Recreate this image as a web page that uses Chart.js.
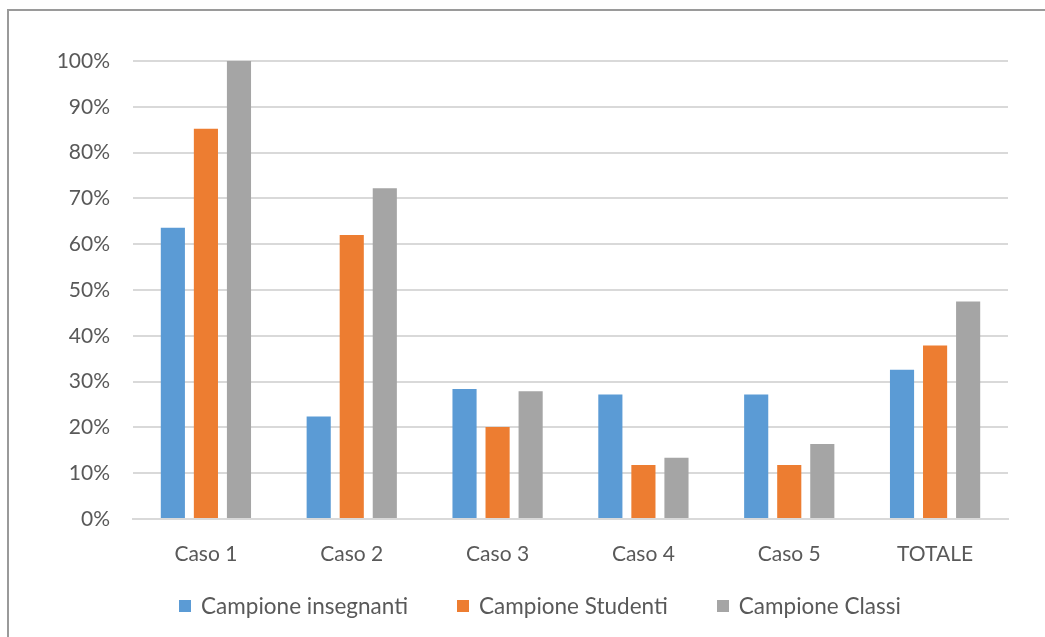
<!DOCTYPE html>
<html>
<head>
<meta charset="utf-8">
<script src="https://cdn.jsdelivr.net/npm/chart.js@4.4.1/dist/chart.umd.min.js"></script>
<style>
  html, body { margin: 0; padding: 0; background: #fff; }
  body { width: 1045px; height: 637px; overflow: hidden; position: relative; font-family: Lato, sans-serif; }
  #frame { position: absolute; left: 7px; top: 9px; width: 1100px; height: 700px; border-top: 2px solid #9a9a9a; border-left: 2px solid #9a9a9a; }
  #wrap { position: absolute; left: 0; top: 0; width: 1045px; height: 637px; }
  #legend { position: absolute; left: 0; top: 592px; width: 1080px; display: flex; justify-content: center; gap: 49px; color: #595959; font-size: 22.5px; }
  #legend span.item { display: flex; align-items: center; }
  #legend i { display: inline-block; width: 12px; height: 12px; margin-right: 10px; }
</style>
</head>
<body>
<div id="frame"></div>
<div id="wrap"><canvas id="barChart" width="1045" height="637"></canvas></div>
<div id="legend"></div>
<script>
  const categories = ['Caso 1', 'Caso 2', 'Caso 3', 'Caso 4', 'Caso 5', 'TOTALE']
  const seriesNames = ['Campione insegnanti', 'Campione Studenti', 'Campione Classi']
  const insegnanti = [63.6, 22.4, 28.4, 27.2, 27.2, 32.6]
  const studenti = [85.2, 62.0, 20.1, 11.8, 11.8, 37.9]
  const classi = [100, 72.2, 27.9, 13.4, 16.4, 47.5]
  const colors = ['#5B9BD5', '#ED7D31', '#A5A5A5']
  const yTicks = [0, 10, 20, 30, 40, 50, 60, 70, 80, 90, 100]

  const textColor = '#595959'
  const font = { family: 'Lato, sans-serif', size: 21 }

  const ctx = document.getElementById('barChart').getContext('2d')
  const allSeries = [insegnanti, studenti, classi]

  let myBarChart = new Chart(ctx, {
    type: 'bar',
    data: {
      labels: categories,
      datasets: allSeries.map((values, i) => ({
        label: seriesNames[i],
        data: values,
        backgroundColor: colors[i],
        borderWidth: 0,
        categoryPercentage: 0.68,
        barPercentage: 0.73
      }))
    },
    options: {
      responsive: false,
      animation: false,
      layout: {
        padding: { left: 0, right: 37, top: 61, bottom: 58 }
      },
      scales: {
        x: {
          grid: { display: false },
          border: { display: true, color: '#d9d9d9', width: 2 },
          ticks: { color: textColor, font: font, padding: 15 },
          afterFit: (scale) => { scale.height = 60 }
        },
        y: {
          min: 0,
          max: 100,
          afterBuildTicks: (scale) => { scale.ticks = yTicks.map(v => ({ value: v })) },
          grid: { color: '#d9d9d9', lineWidth: 2, drawTicks: false },
          border: { display: false },
          ticks: {
            color: textColor,
            font: font,
            padding: 23,
            callback: (v) => v + '%'
          },
          afterFit: (scale) => { scale.width = 133 }
        }
      },
      plugins: {
        legend: { display: false },
        tooltip: { enabled: false }
      }
    }
  })

  // legend drawn as html, from the same arrays
  const legendDiv = document.getElementById('legend')
  seriesNames.forEach((name, i) => {
    const item = document.createElement('span')
    item.className = 'item'
    item.innerHTML = `<i style="background:${colors[i]}"></i>${name}`
    legendDiv.appendChild(item)
  })
</script>
</body>
</html>
